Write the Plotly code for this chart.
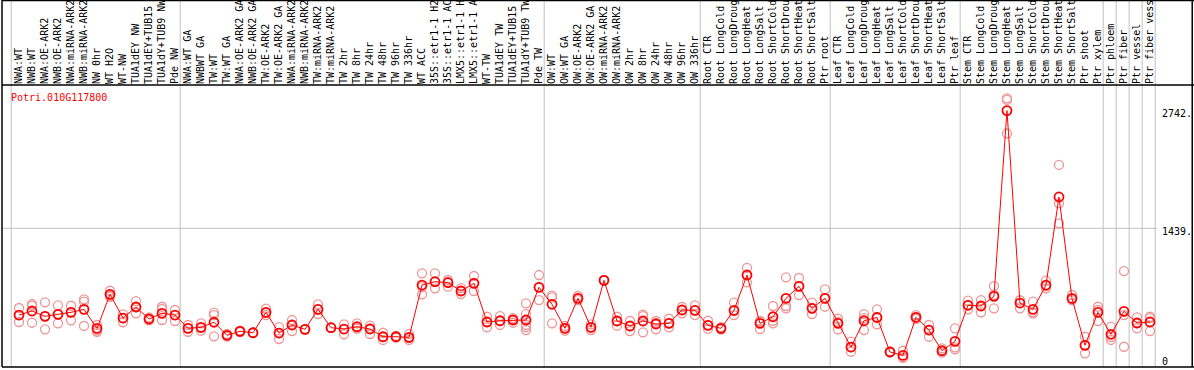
import plotly.graph_objects as go

labels = [
    "NWA:WT", "NWB:WT", "NWA:OE-ARK2", "NWB:OE-ARK2", "NWA:miRNA-ARK2", "NWB:miRNA-ARK2",
    "NW 0hr", "WT H2O", "WT-NW", "TUA1dEY NW", "TUA1dEY+TUB15 NW", "TUA1dY+TUB9 NW", "Pde NW",
    "NWA:WT GA", "NWBWT GA", "TW:WT", "TW:WT GA", "NWA:OE-ARK2 GA", "NWB:OE-ARK2 GA",
    "TW:OE-ARK2", "TW:OE-ARK2 GA", "NWA:miRNA-ARK2 GA", "NWB:miRNA-ARK2 GA", "TW:miRNA-ARK2",
    "TW:miRNA-ARK2 GA", "TW 2hr", "TW 8hr", "TW 24hr", "TW 48hr", "TW 96hr", "TW 336hr",
    "WT ACC", "35S::etr1-1 H2O", "35S::etr1-1 ACC", "LMX5::etr1-1 H2O", "LMX5::etr1-1 ACC",
    "WT-TW", "TUA1dEY TW", "TUA1dEY+TUB15 TW", "TUA1dY+TUB9 TW", "Pde TW",
    "OW:WT", "OW:WT GA", "OW:OE-ARK2", "OW:OE-ARK2 GA", "OW:miRNA-ARK2", "OW:miRNA-ARK2 GA",
    "OW 2hr", "OW 8hr", "OW 24hr", "OW 48hr", "OW 96hr", "OW 336hr",
    "Root CTR", "Root LongCold", "Root LongDrought", "Root LongHeat", "Root LongSalt",
    "Root ShortCold", "Root ShortDrought", "Root ShortHeat", "Root ShortSalt", "Ptr root",
    "Leaf CTR", "Leaf LongCold", "Leaf LongDrought", "Leaf LongHeat", "Leaf LongSalt",
    "Leaf ShortCold", "Leaf ShortDrought", "Leaf ShortHeat", "Leaf ShortSalt", "Ptr leaf",
    "Stem CTR", "Stem LongCold", "Stem LongDrought", "Stem LongHeat", "Stem LongSalt",
    "Stem ShortCold", "Stem ShortDrought", "Stem ShortHeat", "Stem ShortSalt", "Ptr shoot",
    "Ptr xylem", "Ptr phloem", "Ptr fiber", "Ptr vessel", "Ptr fiber vessel",
]

mean_values = [
    479, 524, 465, 487, 509, 542, 332, 708, 446, 568, 435, 498, 479,
    332, 343, 399, 255, 299, 283, 509, 280, 369, 321, 542, 339, 324, 350, 324,
    239, 239, 232, 811, 848, 837, 745, 830, 402, 416, 424, 424, 786,
    598, 332, 664, 343, 863, 413, 358, 413, 380, 387, 535, 531,
    365, 332, 531, 922, 387, 460, 664, 797, 553, 664,
    387, 125, 416, 452, 70, 32, 454, 313, 84, 188,
    587, 579, 686, 2742, 612, 542, 811, 1786, 664, 144,
    509, 266, 520, 391, 402,
]

replicates = [
    [557, 402, 479], [601, 582, 394], [620, 321, 468], [587, 387, 487], [582, 421, 512],
    [653, 627, 358], [369, 294, 313], [748, 690, 679], [487, 399, 446], [634, 498, 568],
    [454, 421, 435], [571, 546, 424], [535, 413, 479],
    [369, 294, 335], [387, 306, 335], [505, 479, 244], [269, 239, 258], [306, 291, 302],
    [283, 280, 287], [549, 479, 501], [346, 214, 280], [424, 302, 369], [321, 318, 325],
    [598, 490, 542], [339, 335, 342], [376, 266, 324], [387, 330, 335], [361, 269, 335],
    [283, 203, 236], [247, 230, 239], [269, 203, 225], [941, 708, 789], [941, 775, 845],
    [793, 867, 845], [778, 712, 745], [911, 745, 834], [460, 343, 402], [468, 369, 413],
    [394, 446, 424], [609, 490, 369, 346, 313], [922, 645, 789],
    [693, 675, 387], [306, 358, 335], [690, 645, 664], [376, 313, 343], [863, 860, 867],
    [460, 361, 413], [413, 302, 358], [483, 288, 468], [413, 321, 391], [438, 343, 391],
    [498, 568, 535], [587, 479, 531],
    [416, 328, 369], [319, 346, 332], [616, 479, 524], [1000, 841, 922], [413, 324, 407],
    [579, 387, 416], [897, 553, 579], [889, 701, 800], [616, 490, 557], [764, 571, 667],
    [438, 321, 402], [184, 73, 125], [490, 313, 445], [542, 376, 457], [70, 75, 65],
    [84, 5, 10], [479, 435, 457], [369, 239, 313], [111, 62, 81], [332, 122, 100],
    [638, 542, 590], [645, 509, 579], [800, 553, 701], [2878, 2860, 2488], [638, 553, 645],
    [627, 498, 512], [859, 775, 800], [2140, 1716, 1494], [701, 645, 656], [239, 55, 147],
    [571, 413, 535], [350, 203, 236], [966, 128, 479], [454, 332, 391], [460, 302, 446],
]

group_last_index = [-1, 12, 40, 52, 62, 72, 83, 84, 85, 86, 87]
gene_name = "Potri.010G117800"
y_tick_values = [0, 1439, 2742]
y_tick_text = ["0", "1439.", "2742."]

x_idx = list(range(len(labels)))
rep_x, rep_y = [], []
for i, reps in enumerate(replicates):
    for v in reps:
        rep_x.append(i)
        rep_y.append(v)

mono = "DejaVu Sans Mono"
fig = go.Figure()
fig.add_trace(go.Scatter(
    x=rep_x, y=rep_y, mode="markers",
    marker=dict(symbol="circle-open", size=9, color="rgb(238,150,150)", line=dict(width=1.3)),
    hoverinfo="skip", showlegend=False,
))
fig.add_trace(go.Scatter(
    x=x_idx, y=mean_values, mode="lines+markers",
    line=dict(color="#ff0000", width=1),
    marker=dict(symbol="circle-open", size=9, color="#ff0000", line=dict(width=1.8)),
    showlegend=False,
))

shapes = []
for b in group_last_index:
    shapes.append(dict(type="line", xref="x", yref="paper", x0=b + 0.4, x1=b + 0.4,
                       y0=0, y1=1.31, line=dict(color="#c0c0c0", width=1), layer="below"))
shapes.append(dict(type="line", xref="paper", yref="y", x0=0, x1=1, y0=1439, y1=1439,
                   line=dict(color="#c0c0c0", width=1), layer="below"))
# frame lines
shapes += [
    dict(type="line", xref="paper", yref="paper", x0=0, x1=1.04, y0=1, y1=1,
         line=dict(color="black", width=1.5)),
    dict(type="line", xref="paper", yref="paper", x0=0, x1=1.04, y0=0, y1=0,
         line=dict(color="black", width=1.5)),
    dict(type="line", xref="paper", yref="paper", x0=0, x1=0, y0=0, y1=1.31,
         line=dict(color="black", width=1.5)),
    dict(type="line", xref="paper", yref="paper", x0=0, x1=1.04, y0=1.3, y1=1.3,
         line=dict(color="black", width=1.5)),
    dict(type="line", xref="paper", yref="paper", x0=1.0305, x1=1.0305, y0=0, y1=1.31,
         line=dict(color="black", width=1.5)),
]

fig.update_layout(
    width=1194, height=370,
    margin=dict(l=2, r=37, t=85, b=3),
    paper_bgcolor="white", plot_bgcolor="white",
    shapes=shapes,
    xaxis=dict(
        range=[-1.308, 87.54], side="top", tickmode="array", tickvals=x_idx, ticktext=labels,
        tickangle=-90, tickfont=dict(family=mono, size=10, color="black"),
        showgrid=False, zeroline=False, showline=False, ticks="", automargin=False,
    ),
    yaxis=dict(
        range=[-96, 3025], side="right", tickmode="array", tickvals=y_tick_values,
        ticktext=y_tick_text, tickfont=dict(family=mono, size=10, color="black"),
        showgrid=False, zeroline=False, showline=False, ticks="", automargin=False,
        ticklabelshift=3, ticklabelstandoff=4,
    ),
    annotations=[dict(
        text=gene_name, xref="paper", yref="paper", x=0.006, y=0.957,
        xanchor="left", yanchor="middle", showarrow=False,
        font=dict(family=mono, size=10, color="#ff0000"),
    )],
)

fig.write_html(
    "out.html",
    config={"displayModeBar": False},
    post_script="document.body.style.margin='0';document.body.style.overflow='hidden';",
)
